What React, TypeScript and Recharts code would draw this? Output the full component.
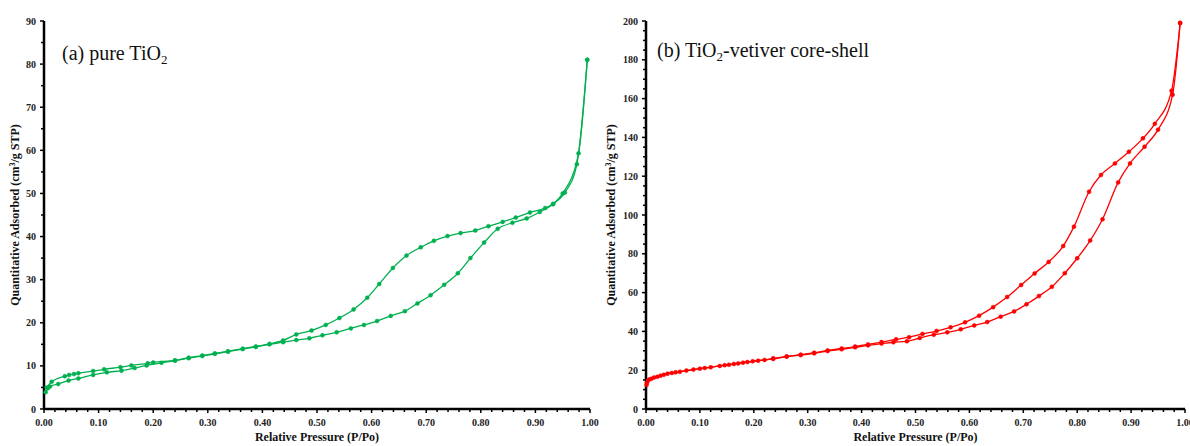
import { LineChart, Line, XAxis, YAxis } from "recharts";

// (a) pure TiO2, [P/Po, quantity]
const aAds = [
  [0.003, 3.9], [0.007, 4.8], [0.011, 5.2], [0.026, 5.8], [0.045, 6.6], [0.063, 7.1], [0.09, 7.9],
  [0.115, 8.5], [0.142, 8.9], [0.166, 9.5], [0.188, 10.1], [0.215, 10.7], [0.24, 11.2], [0.265, 11.8],
  [0.29, 12.3], [0.313, 12.8], [0.337, 13.3], [0.364, 13.9], [0.388, 14.4], [0.413, 15.0], [0.438, 15.5],
  [0.462, 16.0], [0.486, 16.4], [0.51, 17.1], [0.536, 17.8], [0.562, 18.7], [0.586, 19.5], [0.61, 20.4],
  [0.635, 21.6], [0.661, 22.7], [0.684, 24.5], [0.708, 26.4], [0.733, 28.8], [0.758, 31.5], [0.781, 35.0],
  [0.806, 38.6], [0.831, 41.8], [0.858, 43.2], [0.884, 44.2], [0.908, 45.7], [0.932, 47.5], [0.954, 50.2],
  [0.976, 56.8], [0.995, 81.0],
];
const aDes = [
  [0.005, 5.0], [0.014, 6.3], [0.038, 7.6], [0.046, 7.9], [0.055, 8.1], [0.063, 8.3], [0.09, 8.8],
  [0.11, 9.2], [0.14, 9.7], [0.16, 10.1], [0.19, 10.6], [0.2, 10.8], [0.24, 11.3], [0.265, 11.9],
  [0.29, 12.4], [0.313, 12.9], [0.337, 13.4], [0.364, 14.0], [0.388, 14.5], [0.413, 15.1], [0.438, 15.9],
  [0.462, 17.3], [0.49, 18.2], [0.516, 19.5], [0.541, 21.1], [0.567, 23.1], [0.592, 25.8], [0.614, 29.0],
  [0.639, 32.7], [0.664, 35.6], [0.69, 37.5], [0.714, 39.0], [0.739, 40.1], [0.763, 40.8], [0.79, 41.4],
  [0.814, 42.4], [0.84, 43.4], [0.864, 44.4], [0.89, 45.6], [0.918, 46.6], [0.933, 47.6], [0.95, 50.0],
  [0.979, 59.3], [0.995, 81.0],
];

// (b) TiO2-vetiver core-shell
const bAds = [
  [0.001, 12.4], [0.003, 14.5], [0.01, 15.6], [0.021, 16.6], [0.033, 17.6], [0.048, 18.6], [0.063, 19.2],
  [0.088, 20.3], [0.109, 21.1], [0.137, 22.2], [0.154, 22.8], [0.171, 23.5], [0.188, 24.2], [0.208, 24.9],
  [0.236, 25.8], [0.261, 27.0], [0.287, 27.8], [0.312, 28.7], [0.337, 29.9], [0.363, 30.8], [0.388, 31.8],
  [0.412, 32.8], [0.437, 33.7], [0.459, 34.4], [0.484, 34.9], [0.508, 36.6], [0.534, 38.3], [0.559, 39.5],
  [0.584, 41.1], [0.609, 43.1], [0.633, 44.8], [0.658, 47.6], [0.683, 50.3], [0.706, 54.0], [0.729, 58.2],
  [0.753, 63.0], [0.777, 70.0], [0.8, 77.7], [0.824, 86.8], [0.847, 97.8], [0.876, 116.8], [0.898, 126.6],
  [0.925, 135.2], [0.95, 144.0], [0.977, 162.0], [0.991, 199.0],
];
const bDes = [
  [0.002, 13.5], [0.006, 15.2], [0.015, 16.2], [0.027, 17.2], [0.04, 18.2], [0.055, 18.9], [0.075, 19.8],
  [0.1, 20.8], [0.12, 21.5], [0.146, 22.6], [0.163, 23.2], [0.18, 23.9], [0.198, 24.6], [0.22, 25.3],
  [0.236, 26.1], [0.261, 27.1], [0.287, 28.0], [0.312, 29.0], [0.337, 30.2], [0.363, 31.2], [0.388, 32.2],
  [0.412, 33.3], [0.437, 34.5], [0.464, 35.9], [0.488, 37.0], [0.513, 38.7], [0.539, 40.2], [0.565, 42.1],
  [0.592, 44.7], [0.618, 48.1], [0.644, 52.5], [0.67, 57.7], [0.696, 63.9], [0.721, 69.9], [0.747, 75.8],
  [0.774, 84.0], [0.794, 94.0], [0.822, 112.0], [0.844, 120.6], [0.87, 126.6], [0.896, 132.6],
  [0.922, 139.5], [0.944, 147.0], [0.975, 164.0], [0.991, 199.0],
];

const xTicks = [0, 0.02, 0.04, 0.06, 0.08, 0.1, 0.12, 0.14, 0.16, 0.18, 0.2, 0.22, 0.24, 0.26, 0.28, 0.3,
  0.32, 0.34, 0.36, 0.38, 0.4, 0.42, 0.44, 0.46, 0.48, 0.5, 0.52, 0.54, 0.56, 0.58, 0.6, 0.62, 0.64, 0.66,
  0.68, 0.7, 0.72, 0.74, 0.76, 0.78, 0.8, 0.82, 0.84, 0.86, 0.88, 0.9, 0.92, 0.94, 0.96, 0.98, 1];
const aYTicks = [0, 5, 10, 15, 20, 25, 30, 35, 40, 45, 50, 55, 60, 65, 70, 75, 80, 85, 90];
const bYTicks = [0, 5, 10, 15, 20, 25, 30, 35, 40, 45, 50, 55, 60, 65, 70, 75, 80, 85, 90, 95, 100,
  105, 110, 115, 120, 125, 130, 135, 140, 145, 150, 155, 160, 165, 170, 175, 180, 185, 190, 195, 200];

const FONT = "'Liberation Serif', 'Times New Roman', serif";
const TOP = 21;
const BOTTOM = 409;

const toRows = (pts: number[][]) => pts.map(([p, q]) => ({ p, q }));

function makeYTick(axisX: number, step: number) {
  return (props: any) => {
    const { y, payload } = props;
    const v = payload.value;
    const major = Math.abs(v % step) < 1e-6;
    return (
      <g>
        <line x1={axisX - (major ? 4 : 3)} x2={axisX} y1={y} y2={y} stroke="#000" strokeWidth={1.5} />
        {major && (
          <text x={axisX - 8} y={y} dy={3.5} textAnchor="end" fontFamily={FONT} fontWeight="bold" fontSize={10} fill="#222">
            {v}
          </text>
        )}
      </g>
    );
  };
}

const XTick = (props: any) => {
  const { x, payload } = props;
  const v = payload.value;
  const major = Math.abs(Math.round(v * 100) % 10) === 0;
  return (
    <g>
      <line x1={x} x2={x} y1={BOTTOM} y2={BOTTOM + (major ? 4 : 3)} stroke="#000" strokeWidth={1.5} />
      {major && (
        <text x={x} y={BOTTOM + 17} textAnchor="middle" fontFamily={FONT} fontWeight="bold" fontSize={10} fill="#222">
          {v.toFixed(2)}
        </text>
      )}
    </g>
  );
};

function Panel({ ads, des, color, yMax, yTicks, step, axisX }: any) {
  return (
    <LineChart width={610} height={446} margin={{ top: TOP, right: 20, left: axisX - 30, bottom: 17 }}>
      <XAxis
        dataKey="p"
        type="number"
        domain={[0, 1]}
        ticks={xTicks}
        interval={0}
        height={20}
        tickLine={false}
        tick={XTick}
        axisLine={{ stroke: "#000", strokeWidth: 2.5 }}
      />
      <XAxis xAxisId="top" orientation="top" type="number" domain={[0, 1]} height={0} tick={false} tickLine={false}
        axisLine={{ stroke: "#222", strokeWidth: 2 }} />
      <YAxis
        type="number"
        domain={[0, yMax]}
        ticks={yTicks}
        interval={0}
        width={30}
        tickLine={false}
        tick={makeYTick(axisX, step)}
        axisLine={{ stroke: "#000", strokeWidth: 2.5 }}
      />
      <YAxis yAxisId="right" orientation="right" type="number" domain={[0, yMax]} width={0} tick={false} tickLine={false}
        axisLine={{ stroke: "#222", strokeWidth: 2 }} />
      <Line data={toRows(ads)} dataKey="q" type="monotone" stroke={color} strokeWidth={1.3}
        dot={{ r: 2, fill: color, stroke: color, strokeWidth: 0.5 }} isAnimationActive={false} />
      <Line data={toRows(des)} dataKey="q" type="monotone" stroke={color} strokeWidth={1.3}
        dot={{ r: 2, fill: color, stroke: color, strokeWidth: 0.5 }} isAnimationActive={false} />
    </LineChart>
  );
}

function Titles({ offset, plotLeft, plotRight, labelX }: any) {
  const cy = (TOP + BOTTOM) / 2;
  return (
    <g transform={`translate(${offset},0)`} fontFamily={FONT} fill="#111">
      <text x={(plotLeft + plotRight) / 2} y={441} textAnchor="middle" fontWeight="bold" fontSize={12}>
        Relative Pressure (P/Po)
      </text>
      <text transform={`translate(${labelX},${cy}) rotate(-90)`} textAnchor="middle" fontWeight="bold" fontSize={12}>
        Quantitative Adsorbed (cm<tspan dy={-4} fontSize={8}>3</tspan><tspan dy={4}>/g STP)</tspan>
      </text>
    </g>
  );
}

export default function App() {
  return (
    <div style={{ position: "absolute", left: 0, top: 0, width: 1190, height: 446, background: "#fff", overflow: "hidden" }}>
      <div style={{ position: "absolute", left: 0, top: 0 }}>
        <Panel ads={aAds} des={aDes} color="#00B050" yMax={90} yTicks={aYTicks} step={10} axisX={44} />
      </div>
      <div style={{ position: "absolute", left: 595, top: 0 }}>
        <Panel ads={bAds} des={bDes} color="#FF0000" yMax={200} yTicks={bYTicks} step={20} axisX={51} />
      </div>
      <svg width={1190} height={446} style={{ position: "absolute", left: 0, top: 0, pointerEvents: "none" }}>
        <Titles offset={0} plotLeft={44} plotRight={590} labelX={19} />
        <Titles offset={595} plotLeft={51} plotRight={590} labelX={20} />
        <text x={62} y={60} fontFamily={FONT} fontSize={20} fill="#111">
          (a) pure TiO<tspan dy={4} fontSize={13}>2</tspan>
        </text>
        <text x={657} y={57} fontFamily={FONT} fontSize={20} fill="#111">
          (b) TiO<tspan dy={4} fontSize={13}>2</tspan><tspan dy={-4}>-vetiver core-shell</tspan>
        </text>
      </svg>
    </div>
  );
}
